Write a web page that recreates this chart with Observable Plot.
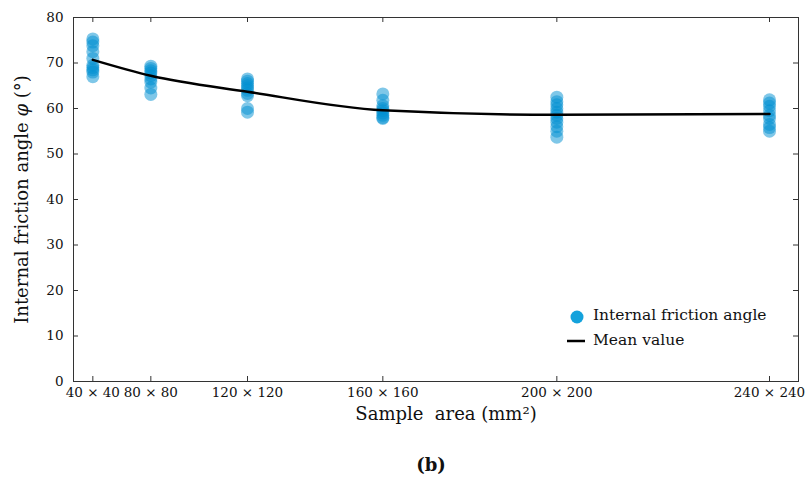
<!DOCTYPE html>
<html><head><meta charset="utf-8">
<script src="https://cdn.jsdelivr.net/npm/d3@7"></script>
<script src="https://cdn.jsdelivr.net/npm/@observablehq/plot@0.6"></script>
<style>
body{margin:0;background:#fff;}
#wrap{position:relative;width:807px;height:481px;font-family:"DejaVu Serif",serif;color:#111;}
.leg{position:absolute;font-size:15.5px;line-height:20px;white-space:nowrap;}
.sym{position:absolute;}
</style></head><body><div id="wrap"></div>
<script>
const sampleSides = [40, 80, 120, 160, 200, 240];
const tickLabels = ["40 × 40", "80 × 80", "120 × 120", "160 × 160", "200 × 200", "240 × 240"];
const angles40 = [75.3, 74.6, 73.8, 72.5, 71.0, 69.5, 69.0, 68.5, 68.0, 67.0];
const angles80 = [69.3, 68.8, 68.3, 67.8, 67.2, 66.5, 65.8, 64.5, 63.1];
const angles120 = [66.5, 66.0, 65.5, 65.0, 64.5, 64.0, 63.3, 62.8, 60.0, 59.2];
const angles160 = [63.2, 61.8, 60.6, 60.0, 59.5, 59.0, 58.5, 58.0, 57.8];
const angles200 = [62.5, 61.5, 60.8, 60.0, 59.2, 58.5, 57.8, 57.0, 56.0, 55.0, 53.7];
const angles240 = [61.9, 61.2, 60.5, 59.5, 58.5, 57.8, 56.5, 55.8, 55.0];
const meanValues = [70.7, 67.2, 63.7, 59.6, 58.6, 58.8];
const yTicks = [0, 10, 20, 30, 40, 50, 60, 70, 80];
const seriesNames = ["Internal friction angle", "Mean value"];
const yLabel = "Internal friction angle φ (°)";
const xLabel = "Sample\u00a0 area (mm²)";
const panelLabel = "(b)";

const groups = [angles40, angles80, angles120, angles160, angles200, angles240];
const areas = sampleSides.map(s => s * s);
const points = [];
groups.forEach((vals, i) => vals.forEach(v => points.push({area: areas[i], angle: v})));
const means = areas.map((a, i) => ({area: a, angle: meanValues[i]}));

const W = 807, H = 481, mL = 73, mR = 9, mT = 17, mB = 100;
const fw = W - mL - mR, fh = H - mT - mB, tk = 5;
const axisColor = "#333";
const dotColor = "#0090d2";

const chart = Plot.plot({
  width: W, height: H,
  marginLeft: mL, marginRight: mR, marginTop: mT, marginBottom: mB,
  style: {fontFamily: "'DejaVu Serif', serif", fontSize: "13.5px", color: "#111", background: "#fff", overflow: "visible"},
  x: {domain: [0, 60000]},
  y: {domain: [0, 80]},
  marks: [
    Plot.dot(points, {x: "area", y: "angle", r: 6.5, fill: dotColor, fillOpacity: 0.5, stroke: "none"}),
    Plot.line(means, {x: "area", y: "angle", stroke: "#000", strokeWidth: 2.5, curve: "monotone-x"}),
    Plot.frame({stroke: axisColor}),
    Plot.ruleX(areas, {x: d => d, insetTop: fh - tk, stroke: axisColor}),
    Plot.ruleX(areas, {x: d => d, insetBottom: fh - tk, stroke: axisColor}),
    Plot.ruleY(yTicks, {y: d => d, insetRight: fw - tk, stroke: axisColor}),
    Plot.ruleY(yTicks, {y: d => d, insetLeft: fw - tk, stroke: axisColor}),
    Plot.axisX(areas, {tickSize: 0, tickPadding: 6, tickFormat: d => tickLabels[areas.indexOf(d)], label: null}),
    Plot.axisY(yTicks, {tickSize: 0, tickPadding: 10, label: null}),
    Plot.text([yLabel], {text: d => d, frameAnchor: "left", textAnchor: "middle", lineAnchor: "middle", rotate: -90, dx: -51, fontSize: 18}),
    Plot.text([xLabel], {text: d => d, frameAnchor: "bottom", textAnchor: "middle", lineAnchor: "middle", dx: 10, dy: 33, fontSize: 18}),
    Plot.text([panelLabel], {text: d => d, frameAnchor: "bottom", textAnchor: "middle", lineAnchor: "middle", dx: -5, dy: 84, fontSize: 18, fontWeight: "bold"})
  ]
});

chart.querySelectorAll("text").forEach(t => {
  if (t.textContent === yLabel) {
    const [a, b] = t.textContent.split("φ");
    t.textContent = "";
    const ns = "http://www.w3.org/2000/svg";
    const s1 = document.createElementNS(ns, "tspan"); s1.textContent = a;
    const s2 = document.createElementNS(ns, "tspan"); s2.textContent = "φ"; s2.setAttribute("font-style", "italic");
    const s3 = document.createElementNS(ns, "tspan"); s3.textContent = b;
    t.append(s1, s2, s3);
  }
});

const wrap = document.getElementById("wrap");
wrap.appendChild(chart);

// legend
const leg = document.createElement("div");
leg.innerHTML = `
  <svg class="sym" style="left:570px;top:310px" width="14" height="14"><circle cx="7" cy="7" r="6.5" fill="#14a2dc"/></svg>
  <div class="leg" style="left:593px;top:305px">${seriesNames[0]}</div>
  <svg class="sym" style="left:567px;top:339px" width="18" height="4"><line x1="0" x2="18" y1="2" y2="2" stroke="#000" stroke-width="2.5"/></svg>
  <div class="leg" style="left:593px;top:330px">${seriesNames[1]}</div>`;
wrap.appendChild(leg);
</script>
</body></html>
